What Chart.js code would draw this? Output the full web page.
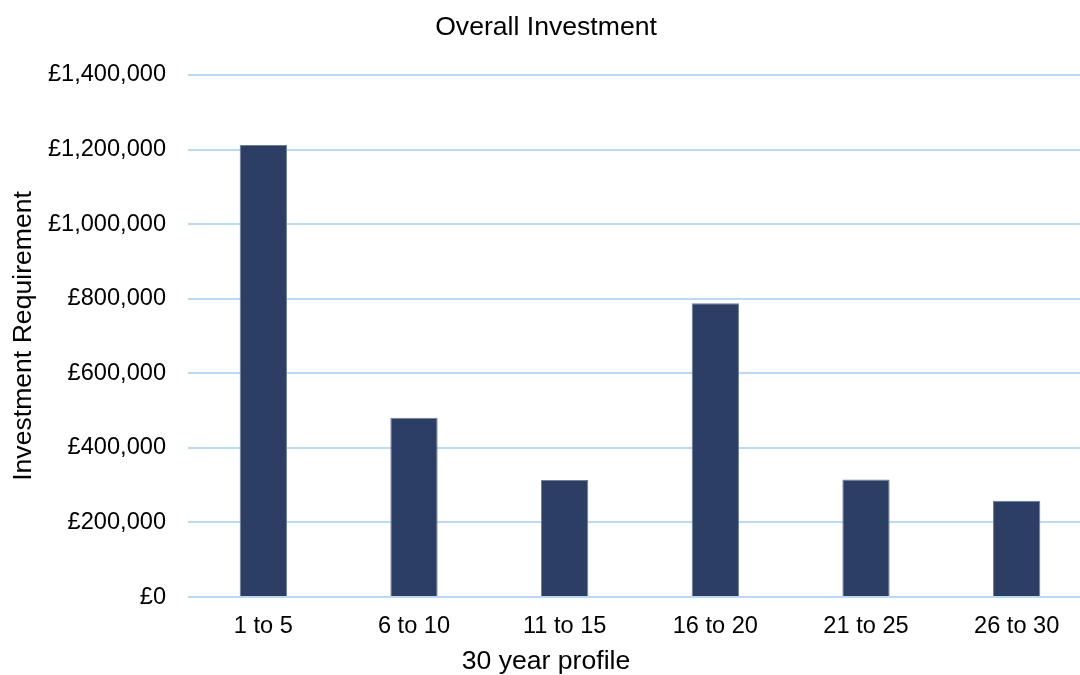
<!DOCTYPE html>
<html>
<head>
<meta charset="utf-8">
<script src="https://cdn.jsdelivr.net/npm/chart.js@4"></script>
<style>
  html, body { margin: 0; padding: 0; background: #ffffff; overflow: hidden; }
  #wrap { width: 1092px; height: 675px; }
</style>
</head>
<body>
<div id="wrap"><canvas id="c" width="1092" height="675" style="width:1092px;height:675px"></canvas></div>
<script>
const categories = ['1 to 5', '6 to 10', '11 to 15', '16 to 20', '21 to 25', '26 to 30'];
const investment = [1212000, 481000, 314000, 788000, 315000, 258000];
const yMin = 0;
const yMax = 1400000;
const yStep = 200000;

const FONT = 'Liberation Sans, Arial, sans-serif';
const gridColor = '#BAD8F7';

new Chart(document.getElementById('c'), {
  type: 'bar',
  data: {
    labels: categories,
    datasets: [{
      label: 'Investment',
      data: investment,
      backgroundColor: '#2C3E64',
      borderColor: '#6F7D99',
      borderWidth: { top: 1, left: 1, right: 1, bottom: 0 },
      barPercentage: 0.314,
      categoryPercentage: 1.0
    }]
  },
  options: {
    responsive: false,
    animation: false,
    devicePixelRatio: 1,
    layout: { padding: { left: 0, right: 0, top: 0, bottom: 0 } },
    plugins: {
      legend: { display: false },
      tooltip: { enabled: false },
      title: {
        display: true,
        text: 'Overall Investment',
        color: '#000000',
        font: { family: FONT, size: 26.6, weight: 'normal', lineHeight: 1.2 },
        padding: { top: 12, bottom: 31 }
      },
      subtitle: {
        display: true,
        position: 'bottom',
        text: '30 year profile',
        color: '#000000',
        font: { family: FONT, size: 26.6, weight: 'normal', lineHeight: 1 },
        padding: { top: 7, bottom: 0 }
      }
    },
    scales: {
      x: {
        grid: { display: false, drawTicks: false },
        border: { display: false },
        ticks: {
          color: '#000000',
          font: { family: FONT, size: 23.6 },
          padding: 15,
          maxRotation: 0
        },
        afterFit: (s) => { s.height = 44.4; }
      },
      y: {
        min: yMin,
        max: yMax,
        grid: { color: gridColor, lineWidth: 2, drawTicks: false },
        border: { display: false },
        ticks: {
          stepSize: yStep,
          color: '#000000',
          font: { family: FONT, size: 23.6 },
          padding: 22,
          callback: (v) => '£' + Number(v).toLocaleString('en-GB')
        },
        title: {
          display: true,
          text: 'Investment Requirement',
          color: '#000000',
          font: { family: FONT, size: 26.6, lineHeight: 1.2 },
          padding: { top: 8, bottom: 0 }
        },
        afterFit: (s) => { s.width = 188; }
      }
    }
  }
});
</script>
</body>
</html>
